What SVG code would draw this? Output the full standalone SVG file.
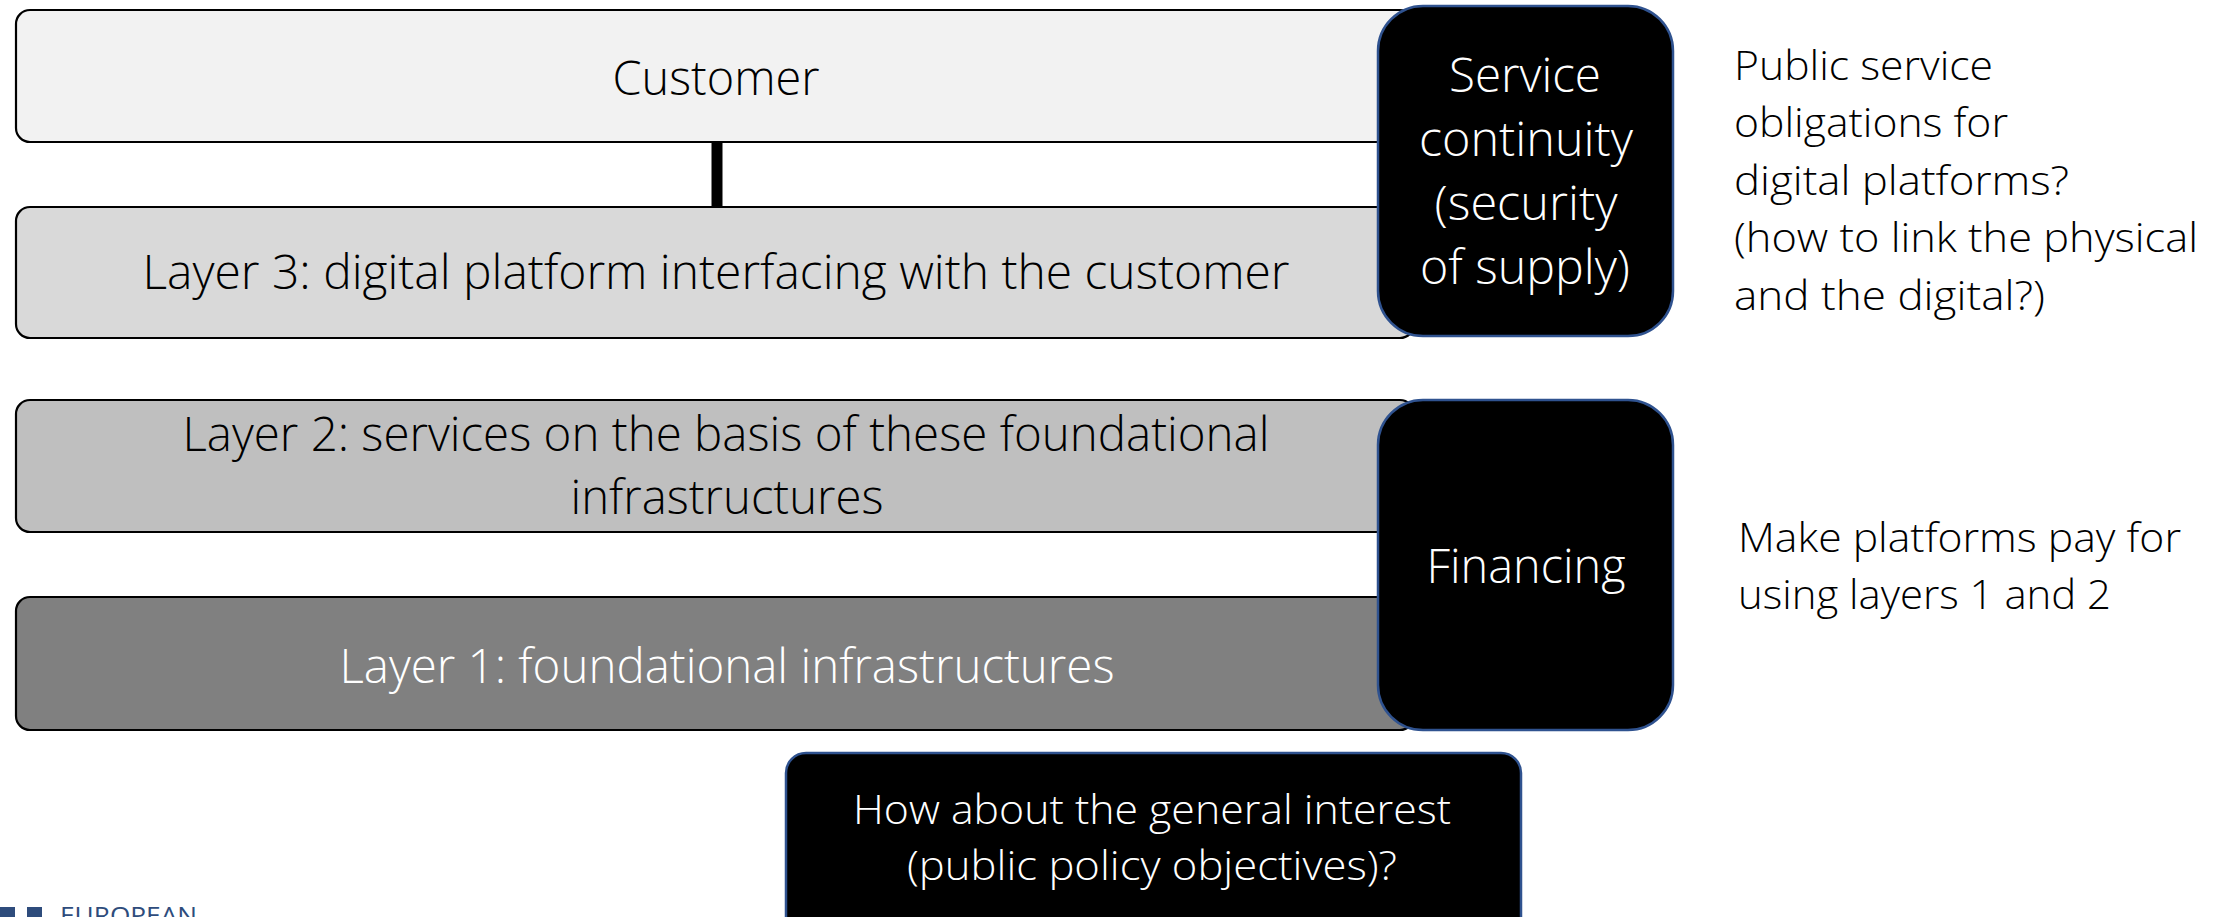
<svg xmlns="http://www.w3.org/2000/svg" width="2225" height="917" viewBox="0 0 2225 917">
<style>
.layer{stroke:#000;stroke-width:2.2}
.dark{fill:#000;stroke:#2F528F;stroke-width:2.5}
text{font-family:"Open Sans","Liberation Sans",sans-serif;font-weight:300}
.big{font-size:47px}
.small{font-size:41px}
.c{text-anchor:middle}
.w{fill:#fff}
.k{fill:#000}
</style>
<rect width="2225" height="917" fill="#fff"/>
<g id="connectors">
<line x1="717" y1="142" x2="717" y2="207" stroke="#000" stroke-width="11"/>
</g>
<g id="customer">
<rect class="layer" x="16" y="10" width="1398" height="132" rx="14" fill="#F2F2F2"/>
<text class="big c k" x="716" y="95" textLength="207" lengthAdjust="spacingAndGlyphs">Customer</text>
</g>
<g id="layer3">
<rect class="layer" x="16" y="207" width="1398" height="131" rx="14" fill="#D9D9D9"/>
<text class="big c k" x="716" y="289" textLength="1147" lengthAdjust="spacingAndGlyphs">Layer 3: digital platform interfacing with the customer</text>
</g>
<g id="layer2">
<rect class="layer" x="16" y="400" width="1398" height="132" rx="14" fill="#BFBFBF"/>
<text class="big c k" x="726" y="451" textLength="1087" lengthAdjust="spacingAndGlyphs">Layer 2: services on the basis of these foundational</text>
<text class="big c k" x="727" y="514" textLength="313" lengthAdjust="spacingAndGlyphs">infrastructures</text>
</g>
<g id="layer1">
<rect class="layer" x="16" y="597" width="1398" height="133" rx="14" fill="#808080"/>
<text class="big c w" x="727" y="683" textLength="775" lengthAdjust="spacingAndGlyphs">Layer 1: foundational infrastructures</text>
</g>
<g id="service-continuity">
<rect class="dark" x="1378" y="6" width="295" height="330" rx="45"/>
<text class="big c w" x="1525" y="92" textLength="152" lengthAdjust="spacingAndGlyphs">Service</text>
<text class="big c w" x="1526" y="156" textLength="214" lengthAdjust="spacingAndGlyphs">continuity</text>
<text class="big c w" x="1526" y="220" textLength="183" lengthAdjust="spacingAndGlyphs">(security</text>
<text class="big c w" x="1525" y="284" textLength="210" lengthAdjust="spacingAndGlyphs">of supply)</text>
</g>
<g id="financing">
<rect class="dark" x="1378" y="400" width="295" height="330" rx="45"/>
<text class="big c w" x="1526" y="583" textLength="199" lengthAdjust="spacingAndGlyphs">Financing</text>
</g>
<g id="general-interest">
<rect class="dark" x="786" y="753" width="735" height="200" rx="20"/>
<text class="small c w" x="1152" y="824" textLength="598" lengthAdjust="spacingAndGlyphs">How about the general interest</text>
<text class="small c w" x="1152" y="880" textLength="490" lengthAdjust="spacingAndGlyphs">(public policy objectives)?</text>
</g>
<g id="pso-note">
<text class="small k" x="1734" y="80" textLength="259" lengthAdjust="spacingAndGlyphs">Public service</text>
<text class="small k" x="1734" y="137" textLength="274" lengthAdjust="spacingAndGlyphs">obligations for</text>
<text class="small k" x="1734" y="195" textLength="335" lengthAdjust="spacingAndGlyphs">digital platforms?</text>
<text class="small k" x="1734" y="252" textLength="464" lengthAdjust="spacingAndGlyphs">(how to link the physical</text>
<text class="small k" x="1734" y="310" textLength="311" lengthAdjust="spacingAndGlyphs">and the digital?)</text>
</g>
<g id="financing-note">
<text class="small k" x="1738" y="552" textLength="443" lengthAdjust="spacingAndGlyphs">Make platforms pay for</text>
<text class="small k" x="1738" y="609" textLength="373" lengthAdjust="spacingAndGlyphs">using layers 1 and 2</text>
</g>
<g id="logo">
<rect x="0" y="907" width="15" height="15" fill="#2E4C7C"/>
<rect x="27" y="907" width="15" height="15" fill="#2E4C7C"/>
<text x="60" y="924" font-size="23" fill="#2E4C7C" style="font-weight:400" textLength="137" lengthAdjust="spacingAndGlyphs">EUROPEAN</text>
</g>
</svg>
